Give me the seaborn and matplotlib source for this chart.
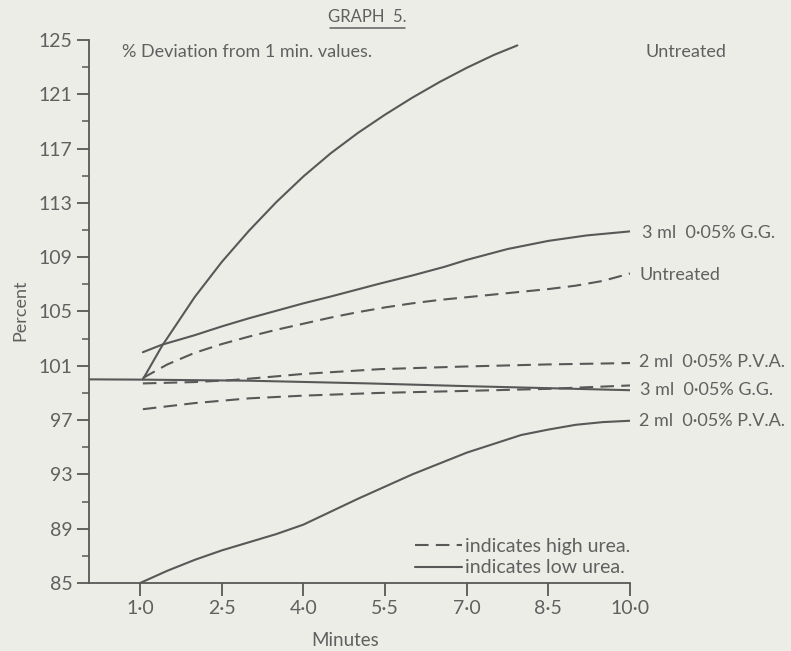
import numpy as np
import pandas as pd
import matplotlib
matplotlib.use("Agg")
import matplotlib.pyplot as plt
from matplotlib.lines import Line2D
import seaborn as sns

# =============================================================================
# DATA
# =============================================================================
untreated_low_x = [1.05, 1.2, 1.4, 1.7, 2.0, 2.5, 3.0, 3.5, 4.0, 4.5, 5.0, 5.5, 6.0, 6.5, 7.0, 7.5, 7.93]
untreated_low_y = [100.0, 101.05, 102.45, 104.25, 106.05, 108.65, 110.95, 113.05, 114.95, 116.65, 118.15, 119.5, 120.75, 121.9, 122.95, 123.9, 124.6]

gg_low_x = [1.05, 1.4, 2.0, 2.5, 3.0, 3.5, 4.0, 4.5, 5.4, 6.0, 6.6, 7.0, 7.75, 8.5, 9.2, 10.0]
gg_low_y = [102.0, 102.55, 103.25, 103.9, 104.5, 105.05, 105.6, 106.1, 107.05, 107.65, 108.3, 108.8, 109.6, 110.2, 110.6, 110.9]

untreated_high_x = [1.05, 1.5, 2.0, 2.5, 3.0, 3.5, 4.0, 4.5, 5.0, 5.5, 6.0, 6.5, 7.0, 7.5, 8.0, 8.5, 9.0, 9.5, 10.0]
untreated_high_y = [100.1, 101.1, 101.95, 102.6, 103.15, 103.65, 104.1, 104.55, 104.95, 105.3, 105.6, 105.85, 106.05, 106.25, 106.45, 106.65, 106.9, 107.25, 107.8]

pva_high_x = [1.05, 2.0, 2.7, 3.3, 4.0, 5.4, 7.0, 8.5, 10.0]
pva_high_y = [99.7, 99.8, 99.95, 100.15, 100.4, 100.75, 100.95, 101.1, 101.2]

gg_high_x = [1.05, 2.0, 3.0, 4.0, 5.4, 7.0, 8.5, 10.0]
gg_high_y = [97.8, 98.25, 98.6, 98.8, 99.0, 99.15, 99.3, 99.55]

reference_x = [0.06, 1.0, 3.0, 5.2, 7.0, 10.0]
reference_y = [100.0, 99.98, 99.9, 99.7, 99.5, 99.2]

pva_low_x = [1.0, 1.5, 2.0, 2.5, 3.0, 3.5, 4.0, 5.0, 6.0, 7.0, 8.0, 8.5, 9.0, 9.5, 10.0]
pva_low_y = [85.0, 85.9, 86.7, 87.4, 88.0, 88.6, 89.3, 91.2, 93.0, 94.6, 95.9, 96.3, 96.65, 96.85, 96.95]

x_ticks = [1.0, 2.5, 4.0, 5.5, 7.0, 8.5, 10.0]
x_tick_labels = ["1·0", "2·5", "4·0", "5·5", "7·0", "8·5", "10·0"]
y_ticks = [85, 89, 93, 97, 101, 105, 109, 113, 117, 121, 125]

# (text, x, y) labels at the right-hand end of the curves
end_labels = [
    ("Untreated", 10.28, 124.1),
    ("3 ml  0·05% G.G.", 10.22, 110.8),
    ("Untreated", 10.18, 107.7),
    ("2 ml  0·05% P.V.A.", 10.16, 101.25),
    ("3 ml  0·05% G.G.", 10.18, 99.2),
    ("2 ml  0·05% P.V.A.", 10.16, 96.9),
]

series = [
    ("untreated_low", "low", untreated_low_x, untreated_low_y),
    ("gg_low", "low", gg_low_x, gg_low_y),
    ("untreated_high", "high", untreated_high_x, untreated_high_y),
    ("pva_high", "high", pva_high_x, pva_high_y),
    ("gg_high", "high", gg_high_x, gg_high_y),
    ("reference", "low", reference_x, reference_y),
    ("pva_low", "low", pva_low_x, pva_low_y),
]

rows = []
for name, urea, xs, ys in series:
    for x, y in zip(xs, ys):
        rows.append({"series": name, "urea": urea, "minutes": x, "percent": y})
df = pd.DataFrame(rows)

# =============================================================================
# PLOT
# =============================================================================
BG = "#ecede7"
INK = "#585858"
TXT = "#606060"
DASH = (6.5, 3.5)

sns.set_style("ticks")
plt.rcParams["font.family"] = ["Lato", "DejaVu Sans"]

fig = plt.figure(figsize=(7.91, 6.51), dpi=100, facecolor=BG)
ax = fig.add_axes([0.1125, 0.1045, 0.684, 0.8341], facecolor=BG)

sns.lineplot(data=df, x="minutes", y="percent", units="series", estimator=None,
             style="urea", dashes={"high": DASH, "low": ""}, color=INK,
             linewidth=1.5, sort=True, legend=False, ax=ax)

ax.set_xlim(0.06, 10.0)
ax.set_ylim(85, 125)
ax.set_xticks(x_ticks)
ax.set_xticklabels(x_tick_labels)
ax.set_yticks(y_ticks)
ax.set_yticks([v + 2 for v in y_ticks[:-1]], minor=True)
ax.tick_params(axis="both", which="major", direction="out", length=9, width=1.3,
               colors=INK, labelcolor=TXT, labelsize=14, pad=3)
ax.tick_params(axis="y", which="minor", direction="out", length=5, width=1.1, colors=INK)
sns.despine(ax=ax)
for side in ("left", "bottom"):
    ax.spines[side].set_color(INK)
    ax.spines[side].set_linewidth(1.3)

ax.set_xlabel("Minutes", fontsize=13.5, color=TXT)
ax.xaxis.set_label_coords(0.473, -0.09)
ax.set_ylabel("")
fig.text(0.026, 0.524, "Percent", rotation=90, ha="center", va="center", fontsize=13, color=TXT)

for text, x, y in end_labels:
    ax.text(x, y, text, ha="left", va="center", fontsize=13, color=TXT, clip_on=False)

# title and subtitle
fig.text(0.464, 0.974, "GRAPH  5.", ha="center", va="center", fontsize=12, color=TXT)
fig.add_artist(Line2D([0.417, 0.512], [0.957, 0.957], color=TXT, lw=1.1))
fig.text(0.154, 0.920, "% Deviation from 1 min. values.", ha="left", va="center",
         fontsize=13, color=TXT)

handles = [
    Line2D([], [], color=INK, lw=1.5, linestyle=(0, DASH)),
    Line2D([], [], color=INK, lw=1.5),
]
ax.legend(handles, ["indicates high urea.", "indicates low urea."],
          loc="lower right", bbox_to_anchor=(1.0, 0.012), frameon=False,
          fontsize=14, labelcolor=TXT, handlelength=2.4, handletextpad=0.15,
          labelspacing=0.25, borderpad=0, borderaxespad=0)

fig.savefig("out.png", dpi=100, facecolor=BG)
